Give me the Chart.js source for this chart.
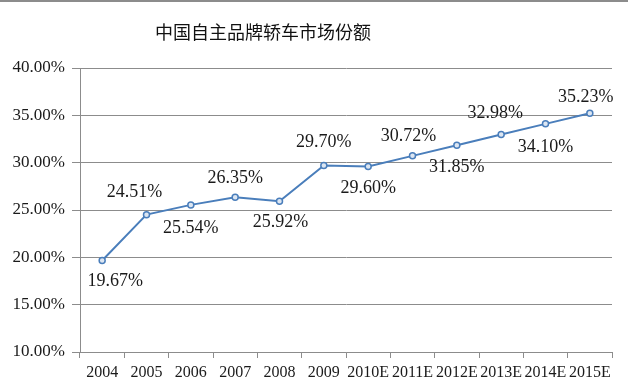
<!DOCTYPE html>
<html>
<head>
<meta charset="utf-8">
<script src="https://cdn.jsdelivr.net/npm/chart.js@4/dist/chart.umd.min.js"></script>
<style>
  html, body { margin: 0; padding: 0; background: #fff; }
  #wrap { width: 628px; height: 383px; position: relative; }
</style>
</head>
<body>
<div id="wrap"><canvas id="c" width="628" height="383"></canvas></div>
<script>
const titleText = '中国自主品牌轿车市场份额';
const categories = ['2004','2005','2006','2007','2008','2009','2010E','2011E','2012E','2013E','2014E','2015E'];
const shareValues = [19.67, 24.51, 25.54, 26.35, 25.92, 29.70, 29.60, 30.72, 31.85, 32.98, 34.10, 35.23];
const yTickMin = 10;
const yTickMax = 40;
const yTickStep = 5;

// label placement relative to each point (style, not data)
const labelOffsets = [
  [13, 21], [-12, -22], [0, 23], [0, -19], [1, 21], [0, -23],
  [0, 22], [-4, -20], [0, 22], [-6, -21], [0, 23], [-4, -16]
];

const PLOT_LEFT = 80, PLOT_TOP = 68, PLOT_BOTTOM = 352, PLOT_RIGHT = 612;

const decorPlugin = {
  id: 'decor',
  beforeDraw(chart) {
    const ctx = chart.ctx;
    ctx.save();
    ctx.fillStyle = '#8c8c8c';
    ctx.fillRect(0, 0, chart.width, 2);
    ctx.fillStyle = '#111';
    ctx.font = '18px "Noto Sans CJK SC"';
    ctx.textAlign = 'center';
    ctx.textBaseline = 'middle';
    ctx.fillText(titleText, 263, 32);
    ctx.restore();
  },
  afterDatasetsDraw(chart) {
    const ctx = chart.ctx;
    const meta = chart.getDatasetMeta(0);
    ctx.save();
    ctx.fillStyle = '#1a1a1a';
    ctx.font = '18px "Liberation Serif"';
    ctx.textAlign = 'center';
    ctx.textBaseline = 'middle';
    meta.data.forEach((pt, i) => {
      const off = labelOffsets[i];
      ctx.fillText(shareValues[i].toFixed(2) + '%', pt.x + off[0], pt.y + off[1]);
    });
    ctx.restore();
  }
};

new Chart(document.getElementById('c'), {
  type: 'line',
  data: {
    labels: categories,
    datasets: [{
      data: shareValues,
      borderColor: '#4a7ebb',
      borderWidth: 2,
      pointRadius: 3,
      pointBorderWidth: 1.5,
      pointBackgroundColor: '#dce6f2',
      pointBorderColor: '#4a7ebb',
      tension: 0,
      fill: false
    }]
  },
  options: {
    responsive: false,
    animation: false,
    devicePixelRatio: 1,
    layout: { padding: { left: 0, right: 628 - PLOT_RIGHT, top: PLOT_TOP, bottom: 0 } },
    plugins: { legend: { display: false }, tooltip: { enabled: false }, title: { display: false } },
    scales: {
      x: {
        type: 'category',
        offset: true,
        grid: { offset: true, drawOnChartArea: false, drawTicks: true, tickLength: 6, color: '#8c8c8c' },
        border: { color: '#8c8c8c', width: 1 },
        ticks: { color: '#1a1a1a', font: { family: 'Liberation Serif', size: 16 }, maxRotation: 0, autoSkip: false, padding: 5 },
        afterFit(scale) { scale.height = 383 - PLOT_BOTTOM; }
      },
      y: {
        min: yTickMin,
        max: yTickMax,
        grid: { color: '#8c8c8c', tickLength: 8, drawTicks: true },
        border: { color: '#8c8c8c', width: 1 },
        ticks: {
          stepSize: yTickStep,
          color: '#1a1a1a',
          font: { family: 'Liberation Serif', size: 17 },
          padding: 7,
          callback: v => v.toFixed(2) + '%'
        },
        afterFit(scale) { scale.width = PLOT_LEFT; }
      }
    }
  },
  plugins: [decorPlugin]
});
</script>
</body>
</html>
